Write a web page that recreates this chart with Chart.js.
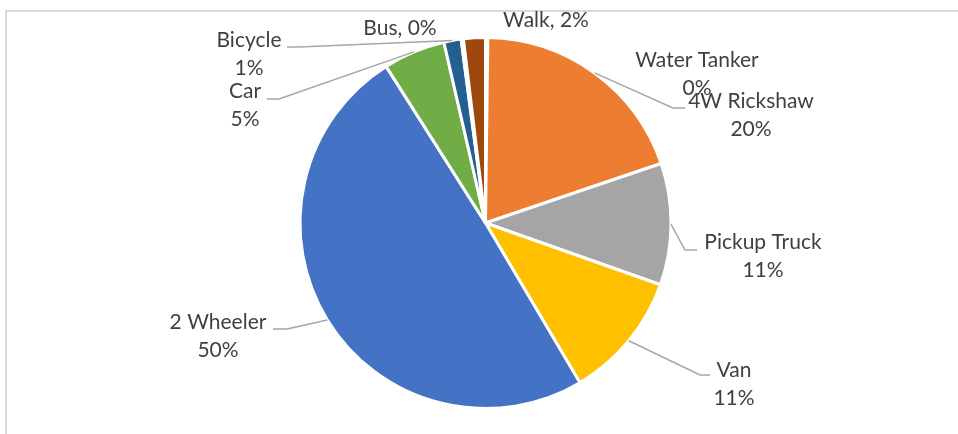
<!DOCTYPE html>
<html lang="en">
<head>
<meta charset="UTF-8">
<title>Mode share</title>
<script src="https://cdn.jsdelivr.net/npm/chart.js"></script>
<style>
  body { margin: 0; background: #fff; }
  .frame { position: relative; width: 958px; height: 434px; overflow: hidden; }
  .frame::before { content: ''; position: absolute; left: 5px; top: 10px; right: -5px; bottom: -5px;
    border-top: 2px solid #d9d9d9; border-left: 2px solid #d9d9d9; }
  canvas { position: absolute; left: 0; top: 0; }
</style>
</head>
<body>
<div class="frame"><canvas id="chart" width="958" height="434"></canvas></div>
<script>
// data, clockwise from 12 o'clock
const modes = ['Water Tanker', '4W Rickshaw', 'Pickup Truck', 'Van', '2 Wheeler', 'Car', 'Bicycle', 'Bus', 'Walk'];
const shares = [0.2, 19.6, 10.6, 11.1, 49.5, 5.4, 1.5, 0.2, 1.9];
const shareLabels = ['0%', '20%', '11%', '11%', '50%', '5%', '1%', '0%', '2%'];
const colors = ['#4472c4', '#ed7d31', '#a5a5a5', '#ffc000', '#4472c4', '#70ad47', '#255e91', '#264478', '#9e480e'];

// where each label sits (x = text centre, y = first baseline), plus leader bends
const labelSpots = [
  { x: 697, y: 67 },
  { x: 751, y: 108, leader: [[673, 108], [685, 108]] },
  { x: 763, y: 249, leader: [[685, 250], [697, 250]] },
  { x: 734, y: 377, leader: [[700, 375], [710, 375]] },
  { x: 218, y: 329, leader: [[287, 329], [273, 329]] },
  { x: 245, y: 98, leader: [[279, 99], [267, 99]] },
  { x: 249, y: 47, leader: [[299, 47], [287, 47]] },
  { x: 400, y: 35, inline: true },
  { x: 546, y: 27, inline: true }
];

const leaderLabels = {
  id: 'leaderLabels',
  afterDatasetsDraw(chart) {
    const ctx = chart.ctx;
    const arcs = chart.getDatasetMeta(0).data;
    ctx.save();
    ctx.font = '21px Lato';
    ctx.fillStyle = '#404040';
    ctx.textAlign = 'center';
    ctx.strokeStyle = '#a6a6a6';
    ctx.lineWidth = 1.5;
    arcs.forEach((arc, i) => {
      const spot = labelSpots[i];
      const p = arc.getProps(['x', 'y', 'startAngle', 'endAngle', 'outerRadius'], true);
      const mid = (p.startAngle + p.endAngle) / 2;
      if (spot.leader) {
        ctx.beginPath();
        ctx.moveTo(p.x + Math.cos(mid) * p.outerRadius, p.y + Math.sin(mid) * p.outerRadius);
        spot.leader.forEach(pt => ctx.lineTo(pt[0], pt[1]));
        ctx.stroke();
      }
      if (spot.inline) {
        ctx.fillText(modes[i] + ', ' + shareLabels[i], spot.x, spot.y);
      } else {
        ctx.fillText(modes[i], spot.x, spot.y);
        ctx.fillText(shareLabels[i], spot.x, spot.y + 28);
      }
    });
    ctx.restore();
  }
};

new Chart(document.getElementById('chart'), {
  type: 'pie',
  data: {
    labels: modes,
    datasets: [{
      data: shares,
      backgroundColor: colors,
      borderColor: '#ffffff',
      borderWidth: 3
    }]
  },
  options: {
    responsive: false,
    animation: false,
    layout: { padding: { left: 107, right: 94, top: 36, bottom: 24 } },
    plugins: {
      legend: { display: false },
      tooltip: { enabled: false }
    }
  },
  plugins: [leaderLabels]
});
</script>
</body>
</html>
